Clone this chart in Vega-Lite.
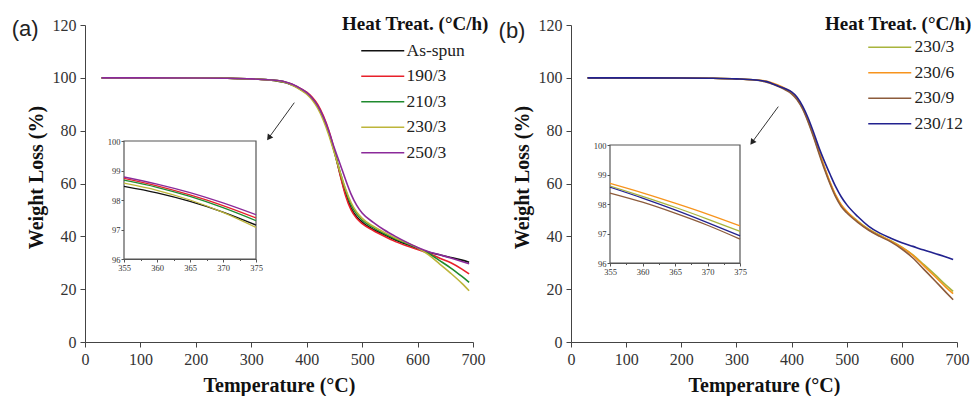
{
"$schema": "https://vega.github.io/schema/vega-lite/v6.json",
"background": "white",
"padding": {"left": 11, "top": 15, "right": 5, "bottom": 5},
"bounds": "flush",
"spacing": 98,
"config": {"view": {"stroke": null}, "font": "Liberation Serif"},
"resolve": {"scale": {"color": "independent"}},
"datasets": {
"a": [
{"s":"As-spun","T":30,"W":100},{"s":"As-spun","T":100,"W":100},{"s":"As-spun","T":200,"W":99.95},{"s":"As-spun","T":250,"W":99.85},{"s":"As-spun","T":300,"W":99.6},{"s":"As-spun","T":330,"W":99.25},{"s":"As-spun","T":355,"W":98.46},{"s":"As-spun","T":360,"W":98.24},{"s":"As-spun","T":365,"W":97.95},{"s":"As-spun","T":370,"W":97.59},{"s":"As-spun","T":375,"W":97.15},{"s":"As-spun","T":390,"W":95.45},{"s":"As-spun","T":400,"W":94.1},{"s":"As-spun","T":410,"W":92.1},{"s":"As-spun","T":420,"W":89.2},{"s":"As-spun","T":430,"W":84.9},{"s":"As-spun","T":440,"W":79.2},{"s":"As-spun","T":450,"W":72.0},{"s":"As-spun","T":460,"W":63.8},{"s":"As-spun","T":470,"W":56.2},{"s":"As-spun","T":480,"W":50.7},{"s":"As-spun","T":490,"W":47.4},{"s":"As-spun","T":500,"W":45.4},{"s":"As-spun","T":520,"W":42.6},{"s":"As-spun","T":540,"W":40.6},{"s":"As-spun","T":560,"W":38.6},{"s":"As-spun","T":580,"W":37.0},{"s":"As-spun","T":600,"W":35.4},{"s":"As-spun","T":620,"W":34.0},{"s":"As-spun","T":640,"W":33.0},{"s":"As-spun","T":660,"W":32.0},{"s":"As-spun","T":680,"W":31.0},{"s":"As-spun","T":693,"W":30.2},
{"s":"190/3","T":30,"W":100},{"s":"190/3","T":100,"W":100},{"s":"190/3","T":200,"W":99.95},{"s":"190/3","T":250,"W":99.85},{"s":"190/3","T":300,"W":99.6},{"s":"190/3","T":330,"W":99.25},{"s":"190/3","T":355,"W":98.73},{"s":"190/3","T":360,"W":98.48},{"s":"190/3","T":365,"W":98.17},{"s":"190/3","T":370,"W":97.81},{"s":"190/3","T":375,"W":97.39},{"s":"190/3","T":390,"W":95.8},{"s":"190/3","T":400,"W":94.55},{"s":"190/3","T":410,"W":92.6},{"s":"190/3","T":420,"W":89.8},{"s":"190/3","T":430,"W":85.6},{"s":"190/3","T":440,"W":80.0},{"s":"190/3","T":450,"W":72.5},{"s":"190/3","T":460,"W":63.5},{"s":"190/3","T":470,"W":55.5},{"s":"190/3","T":480,"W":50.0},{"s":"190/3","T":490,"W":46.8},{"s":"190/3","T":500,"W":44.8},{"s":"190/3","T":520,"W":42.2},{"s":"190/3","T":540,"W":40.0},{"s":"190/3","T":560,"W":38.0},{"s":"190/3","T":580,"W":36.4},{"s":"190/3","T":600,"W":35.0},{"s":"190/3","T":620,"W":33.6},{"s":"190/3","T":640,"W":31.7},{"s":"190/3","T":660,"W":30.0},{"s":"190/3","T":680,"W":27.6},{"s":"190/3","T":693,"W":25.8},
{"s":"210/3","T":30,"W":100},{"s":"210/3","T":100,"W":100},{"s":"210/3","T":200,"W":99.95},{"s":"210/3","T":250,"W":99.85},{"s":"210/3","T":300,"W":99.6},{"s":"210/3","T":330,"W":99.25},{"s":"210/3","T":355,"W":98.67},{"s":"210/3","T":360,"W":98.43},{"s":"210/3","T":365,"W":98.12},{"s":"210/3","T":370,"W":97.74},{"s":"210/3","T":375,"W":97.30},{"s":"210/3","T":390,"W":95.6},{"s":"210/3","T":400,"W":94.25},{"s":"210/3","T":410,"W":92.1},{"s":"210/3","T":420,"W":89.1},{"s":"210/3","T":430,"W":84.7},{"s":"210/3","T":440,"W":79.0},{"s":"210/3","T":450,"W":72.0},{"s":"210/3","T":460,"W":64.5},{"s":"210/3","T":470,"W":57.5},{"s":"210/3","T":480,"W":52.0},{"s":"210/3","T":490,"W":48.5},{"s":"210/3","T":500,"W":46.2},{"s":"210/3","T":520,"W":43.3},{"s":"210/3","T":540,"W":41.0},{"s":"210/3","T":560,"W":39.0},{"s":"210/3","T":580,"W":37.3},{"s":"210/3","T":600,"W":35.6},{"s":"210/3","T":620,"W":33.5},{"s":"210/3","T":640,"W":30.8},{"s":"210/3","T":660,"W":28.0},{"s":"210/3","T":680,"W":24.8},{"s":"210/3","T":693,"W":22.6},
{"s":"230/3","T":30,"W":100},{"s":"230/3","T":100,"W":100},{"s":"230/3","T":200,"W":99.95},{"s":"230/3","T":250,"W":99.85},{"s":"230/3","T":300,"W":99.6},{"s":"230/3","T":330,"W":99.25},{"s":"230/3","T":355,"W":98.57},{"s":"230/3","T":360,"W":98.33},{"s":"230/3","T":365,"W":98.00},{"s":"230/3","T":370,"W":97.58},{"s":"230/3","T":375,"W":97.07},{"s":"230/3","T":390,"W":95.3},{"s":"230/3","T":400,"W":93.85},{"s":"230/3","T":410,"W":91.6},{"s":"230/3","T":420,"W":88.4},{"s":"230/3","T":430,"W":84.0},{"s":"230/3","T":440,"W":78.3},{"s":"230/3","T":450,"W":71.5},{"s":"230/3","T":460,"W":64.5},{"s":"230/3","T":470,"W":58.0},{"s":"230/3","T":480,"W":52.8},{"s":"230/3","T":490,"W":49.2},{"s":"230/3","T":500,"W":46.8},{"s":"230/3","T":520,"W":43.8},{"s":"230/3","T":540,"W":41.5},{"s":"230/3","T":560,"W":39.4},{"s":"230/3","T":580,"W":37.6},{"s":"230/3","T":600,"W":35.7},{"s":"230/3","T":620,"W":33.0},{"s":"230/3","T":640,"W":29.5},{"s":"230/3","T":660,"W":26.0},{"s":"230/3","T":680,"W":22.2},{"s":"230/3","T":693,"W":19.4},
{"s":"250/3","T":30,"W":100},{"s":"250/3","T":100,"W":100},{"s":"250/3","T":200,"W":99.95},{"s":"250/3","T":250,"W":99.85},{"s":"250/3","T":300,"W":99.6},{"s":"250/3","T":330,"W":99.25},{"s":"250/3","T":355,"W":98.78},{"s":"250/3","T":360,"W":98.54},{"s":"250/3","T":365,"W":98.25},{"s":"250/3","T":370,"W":97.90},{"s":"250/3","T":375,"W":97.50},{"s":"250/3","T":390,"W":95.8},{"s":"250/3","T":400,"W":94.4},{"s":"250/3","T":410,"W":92.3},{"s":"250/3","T":420,"W":89.4},{"s":"250/3","T":430,"W":85.2},{"s":"250/3","T":440,"W":79.8},{"s":"250/3","T":450,"W":73.3},{"s":"250/3","T":460,"W":67.5},{"s":"250/3","T":470,"W":61.5},{"s":"250/3","T":480,"W":56.0},{"s":"250/3","T":490,"W":51.8},{"s":"250/3","T":500,"W":48.8},{"s":"250/3","T":520,"W":45.3},{"s":"250/3","T":540,"W":42.4},{"s":"250/3","T":560,"W":40.0},{"s":"250/3","T":580,"W":37.8},{"s":"250/3","T":600,"W":35.8},{"s":"250/3","T":620,"W":34.2},{"s":"250/3","T":640,"W":33.0},{"s":"250/3","T":660,"W":31.8},{"s":"250/3","T":680,"W":30.5},{"s":"250/3","T":693,"W":29.6}
],
"b": [
{"s":"230/3","T":30,"W":100},{"s":"230/3","T":100,"W":100},{"s":"230/3","T":200,"W":99.95},{"s":"230/3","T":250,"W":99.85},{"s":"230/3","T":300,"W":99.6},{"s":"230/3","T":330,"W":99.25},{"s":"230/3","T":355,"W":98.61},{"s":"230/3","T":360,"W":98.26},{"s":"230/3","T":365,"W":97.89},{"s":"230/3","T":370,"W":97.49},{"s":"230/3","T":375,"W":97.07},{"s":"230/3","T":390,"W":95.55},{"s":"230/3","T":400,"W":94.2},{"s":"230/3","T":410,"W":92.0},{"s":"230/3","T":420,"W":88.5},{"s":"230/3","T":430,"W":83.7},{"s":"230/3","T":440,"W":78.0},{"s":"230/3","T":450,"W":71.7},{"s":"230/3","T":460,"W":65.8},{"s":"230/3","T":470,"W":60.2},{"s":"230/3","T":480,"W":55.4},{"s":"230/3","T":490,"W":51.8},{"s":"230/3","T":500,"W":49.4},{"s":"230/3","T":520,"W":45.8},{"s":"230/3","T":540,"W":42.7},{"s":"230/3","T":560,"W":40.4},{"s":"230/3","T":580,"W":38.3},{"s":"230/3","T":600,"W":35.9},{"s":"230/3","T":620,"W":33.0},{"s":"230/3","T":640,"W":29.3},{"s":"230/3","T":660,"W":25.5},{"s":"230/3","T":680,"W":21.5},{"s":"230/3","T":693,"W":19.2},
{"s":"230/6","T":30,"W":100},{"s":"230/6","T":100,"W":100},{"s":"230/6","T":200,"W":99.95},{"s":"230/6","T":250,"W":99.85},{"s":"230/6","T":300,"W":99.6},{"s":"230/6","T":330,"W":99.25},{"s":"230/6","T":355,"W":98.70},{"s":"230/6","T":360,"W":98.38},{"s":"230/6","T":365,"W":98.03},{"s":"230/6","T":370,"W":97.66},{"s":"230/6","T":375,"W":97.26},{"s":"230/6","T":390,"W":95.8},{"s":"230/6","T":400,"W":94.5},{"s":"230/6","T":410,"W":92.3},{"s":"230/6","T":420,"W":88.8},{"s":"230/6","T":430,"W":84.0},{"s":"230/6","T":440,"W":78.3},{"s":"230/6","T":450,"W":72.0},{"s":"230/6","T":460,"W":66.0},{"s":"230/6","T":470,"W":60.4},{"s":"230/6","T":480,"W":55.6},{"s":"230/6","T":490,"W":52.0},{"s":"230/6","T":500,"W":49.5},{"s":"230/6","T":520,"W":45.6},{"s":"230/6","T":540,"W":42.5},{"s":"230/6","T":560,"W":40.2},{"s":"230/6","T":580,"W":38.2},{"s":"230/6","T":600,"W":35.8},{"s":"230/6","T":620,"W":32.8},{"s":"230/6","T":640,"W":28.8},{"s":"230/6","T":660,"W":24.8},{"s":"230/6","T":680,"W":20.7},{"s":"230/6","T":693,"W":18.3},
{"s":"230/9","T":30,"W":100},{"s":"230/9","T":100,"W":100},{"s":"230/9","T":200,"W":99.95},{"s":"230/9","T":250,"W":99.85},{"s":"230/9","T":300,"W":99.6},{"s":"230/9","T":330,"W":99.25},{"s":"230/9","T":355,"W":98.37},{"s":"230/9","T":360,"W":98.06},{"s":"230/9","T":365,"W":97.69},{"s":"230/9","T":370,"W":97.28},{"s":"230/9","T":375,"W":96.81},{"s":"230/9","T":390,"W":95.3},{"s":"230/9","T":400,"W":93.95},{"s":"230/9","T":410,"W":91.7},{"s":"230/9","T":420,"W":88.2},{"s":"230/9","T":430,"W":83.3},{"s":"230/9","T":440,"W":77.5},{"s":"230/9","T":450,"W":71.2},{"s":"230/9","T":460,"W":65.2},{"s":"230/9","T":470,"W":59.7},{"s":"230/9","T":480,"W":54.9},{"s":"230/9","T":490,"W":51.3},{"s":"230/9","T":500,"W":48.9},{"s":"230/9","T":520,"W":45.3},{"s":"230/9","T":540,"W":42.3},{"s":"230/9","T":560,"W":40.0},{"s":"230/9","T":580,"W":37.9},{"s":"230/9","T":600,"W":35.2},{"s":"230/9","T":620,"W":31.8},{"s":"230/9","T":640,"W":27.5},{"s":"230/9","T":660,"W":23.2},{"s":"230/9","T":680,"W":18.8},{"s":"230/9","T":693,"W":16.0},
{"s":"230/12","T":30,"W":100},{"s":"230/12","T":100,"W":100},{"s":"230/12","T":200,"W":99.95},{"s":"230/12","T":250,"W":99.85},{"s":"230/12","T":300,"W":99.6},{"s":"230/12","T":330,"W":99.25},{"s":"230/12","T":355,"W":98.57},{"s":"230/12","T":360,"W":98.20},{"s":"230/12","T":365,"W":97.80},{"s":"230/12","T":370,"W":97.37},{"s":"230/12","T":375,"W":96.92},{"s":"230/12","T":390,"W":95.75},{"s":"230/12","T":400,"W":94.65},{"s":"230/12","T":410,"W":92.65},{"s":"230/12","T":420,"W":89.3},{"s":"230/12","T":430,"W":84.8},{"s":"230/12","T":440,"W":79.3},{"s":"230/12","T":450,"W":73.4},{"s":"230/12","T":460,"W":68.2},{"s":"230/12","T":470,"W":63.4},{"s":"230/12","T":480,"W":58.8},{"s":"230/12","T":490,"W":55.0},{"s":"230/12","T":500,"W":52.0},{"s":"230/12","T":520,"W":47.5},{"s":"230/12","T":540,"W":43.8},{"s":"230/12","T":560,"W":41.2},{"s":"230/12","T":580,"W":39.3},{"s":"230/12","T":600,"W":37.6},{"s":"230/12","T":620,"W":36.2},{"s":"230/12","T":640,"W":34.8},{"s":"230/12","T":660,"W":33.5},{"s":"230/12","T":680,"W":32.2},{"s":"230/12","T":693,"W":31.2}
],
"arrowA": [{"x": 377.6, "y": 90.6, "x2": 331.6, "y2": 77.3}],
"arrowB": [{"x": 375.9, "y": 89.1, "x2": 328.4, "y2": 75.6}],
"labA": [{"x": -108, "y": 118.5, "t": "(a)"}],
"labB": [{"x": -107, "y": 117.7, "t": "(b)"}],
"box": [{"x": 355, "x2": 375, "y": 96, "y2": 100}]
},
"hconcat": [
{
"width": 388, "height": 317,
"resolve": {"scale": {"x": "independent", "y": "independent"}, "axis": {"x": "independent", "y": "independent"}},
"layer": [
{"layer": [
{"data": {"name": "a"}, "mark": {"type": "line", "strokeWidth": 1.6, "interpolate": "monotone"},
 "encoding": {
  "x": {"field": "T", "type": "quantitative", "title": "Temperature (°C)", "scale": {"domain": [0, 700], "nice": false},
   "axis": {"values": [0,50,100,150,200,250,300,350,400,450,500,550,600,650,700], "labelExpr": "datum.value % 100 == 0 ? datum.label : ''", "tickSize": {"condition": {"test": "datum.value % 100 == 0", "value": 5}, "value": 3}, "labelFontSize": 16, "labelFont": "Liberation Serif", "labelColor": "#333", "labelPadding": 4, "titleFont": "Liberation Serif", "titleFontSize": 20, "titleFontWeight": "bold", "titleColor": "#111", "titlePadding": 8, "domainColor": "#444", "tickColor": "#444", "grid": false, "labelFlush": false, "labelOverlap": false, "labelBound": false}},
  "y": {"field": "W", "type": "quantitative", "title": "Weight Loss (%)", "scale": {"domain": [0, 120], "nice": false},
   "axis": {"values": [0,10,20,30,40,50,60,70,80,90,100,110,120], "labelExpr": "datum.value % 20 == 0 ? datum.label : ''", "tickSize": {"condition": {"test": "datum.value % 20 == 0", "value": 5}, "value": 3}, "labelFontSize": 16, "labelFont": "Liberation Serif", "labelColor": "#333", "labelPadding": 4, "titleFont": "Liberation Serif", "titleFontSize": 20, "titleFontWeight": "bold", "titleColor": "#111", "titlePadding": 6, "titleY": 152, "domainColor": "#444", "tickColor": "#444", "grid": false, "labelFlush": false, "labelOverlap": false, "labelBound": false}},
  "color": {"field": "s", "type": "nominal", "sort": null,
   "scale": {"domain": ["As-spun","190/3","210/3","230/3","250/3"], "range": ["#111111","#e8202a","#1f8a2e","#bdb53a","#8b2a9a"]},
   "legend": {"title": "Heat Treat. (°C/h)", "orient": "none", "legendX": 257, "legendY": -10, "direction": "vertical", "titleFont": "Liberation Serif", "titleFontSize": 19, "titleFontWeight": "bold", "titleColor": "#111", "titlePadding": 8, "labelFont": "Liberation Serif", "labelFontSize": 17.5, "labelColor": "#222", "symbolType": "M-5,0H5", "symbolSize": 74, "symbolStrokeWidth": 1.6, "symbolOffset": 32, "labelOffset": 15, "rowPadding": 6.5, "padding": 0}}
 }},
{"data": {"name": "arrowA"}, "mark": {"type": "rule", "color": "#333", "strokeWidth": 1},
 "encoding": {"x": {"field": "x", "type": "quantitative", "title": "Temperature (°C)"}, "y": {"field": "y", "type": "quantitative", "title": "Weight Loss (%)"}, "x2": {"field": "x2"}, "y2": {"field": "y2"}}},
{"data": {"name": "arrowA"}, "mark": {"type": "point", "shape": "triangle-up", "filled": true, "color": "#222", "opacity": 1, "size": 45, "angle": 216},
 "encoding": {"x": {"field": "x2", "type": "quantitative", "title": "Temperature (°C)"}, "y": {"field": "y2", "type": "quantitative", "title": "Weight Loss (%)"}}},
{"data": {"name": "labA"}, "mark": {"type": "text", "font": "Liberation Sans", "fontSize": 22, "color": "#222", "align": "center", "baseline": "middle"},
 "encoding": {"x": {"field": "x", "type": "quantitative", "title": "Temperature (°C)"}, "y": {"field": "y", "type": "quantitative", "title": "Weight Loss (%)"}, "text": {"field": "t"}}}
]},
{"layer": [
{"data": {"name": "box"}, "mark": {"type": "rect", "fill": "white", "stroke": "#555", "strokeWidth": 1.2},
 "encoding": {
  "x": {"field": "x", "type": "quantitative", "title": null, "scale": {"domain": [355, 375], "range": [39, 171], "nice": false, "zero": false},
   "axis": {"orient": "bottom", "offset": -83, "values": [355,357.5,360,362.5,365,367.5,370,372.5,375], "labelExpr": "datum.value % 5 == 0 ? format(datum.value, 'd') : ''", "tickSize": {"condition": {"test": "datum.value % 5 == 0", "value": 3}, "value": 1.5}, "labelFontSize": 8.5, "labelFont": "Liberation Serif", "labelColor": "#333", "labelPadding": 1, "domainColor": "#555", "tickColor": "#555", "grid": false, "labelFlush": false, "labelOverlap": false, "labelBound": false}},
  "x2": {"field": "x2"},
  "y": {"field": "y", "type": "quantitative", "title": null, "scale": {"domain": [96, 100], "range": [234, 116], "nice": false, "zero": false},
   "axis": {"orient": "left", "offset": -39, "values": [96,96.5,97,97.5,98,98.5,99,99.5,100], "labelExpr": "datum.value % 1 == 0 ? format(datum.value, 'd') : ''", "tickSize": {"condition": {"test": "datum.value % 1 == 0", "value": 3}, "value": 1.5}, "labelFontSize": 8.5, "labelFont": "Liberation Serif", "labelColor": "#333", "labelPadding": 1, "domainColor": "#555", "tickColor": "#555", "grid": false, "labelFlush": false, "labelOverlap": false, "labelBound": false}},
  "y2": {"field": "y2"}
 }},
{"data": {"name": "a"}, "transform": [{"filter": "datum.T >= 355 && datum.T <= 375"}], "mark": {"type": "line", "strokeWidth": 1.3, "interpolate": "monotone"},
 "encoding": {"x": {"field": "T", "type": "quantitative", "title": null}, "y": {"field": "W", "type": "quantitative", "title": null}, "color": {"field": "s", "type": "nominal", "sort": null, "legend": null}}}
]}
]
},
{
"width": 386, "height": 317,
"resolve": {"scale": {"x": "independent", "y": "independent"}, "axis": {"x": "independent", "y": "independent"}},
"layer": [
{"layer": [
{"data": {"name": "b"}, "mark": {"type": "line", "strokeWidth": 1.6, "interpolate": "monotone"},
 "encoding": {
  "x": {"field": "T", "type": "quantitative", "title": "Temperature (°C)", "scale": {"domain": [0, 700], "nice": false},
   "axis": {"values": [0,50,100,150,200,250,300,350,400,450,500,550,600,650,700], "labelExpr": "datum.value % 100 == 0 ? datum.label : ''", "tickSize": {"condition": {"test": "datum.value % 100 == 0", "value": 5}, "value": 3}, "labelFontSize": 16, "labelFont": "Liberation Serif", "labelColor": "#333", "labelPadding": 4, "titleFont": "Liberation Serif", "titleFontSize": 20, "titleFontWeight": "bold", "titleColor": "#111", "titlePadding": 8, "domainColor": "#444", "tickColor": "#444", "grid": false, "labelFlush": false, "labelOverlap": false, "labelBound": false}},
  "y": {"field": "W", "type": "quantitative", "title": "Weight Loss (%)", "scale": {"domain": [0, 120], "nice": false},
   "axis": {"values": [0,10,20,30,40,50,60,70,80,90,100,110,120], "labelExpr": "datum.value % 20 == 0 ? datum.label : ''", "tickSize": {"condition": {"test": "datum.value % 20 == 0", "value": 5}, "value": 3}, "labelFontSize": 16, "labelFont": "Liberation Serif", "labelColor": "#333", "labelPadding": 4, "titleFont": "Liberation Serif", "titleFontSize": 20, "titleFontWeight": "bold", "titleColor": "#111", "titlePadding": 6, "titleY": 152, "domainColor": "#444", "tickColor": "#444", "grid": false, "labelFlush": false, "labelOverlap": false, "labelBound": false}},
  "color": {"field": "s", "type": "nominal", "sort": null,
   "scale": {"domain": ["230/3","230/6","230/9","230/12"], "range": ["#a8b43c","#f7941d","#8c5b3b","#22228f"]},
   "legend": {"title": "Heat Treat. (°C/h)", "orient": "none", "legendX": 254, "legendY": -10, "direction": "vertical", "titleFont": "Liberation Serif", "titleFontSize": 19, "titleFontWeight": "bold", "titleColor": "#111", "titlePadding": 4.5, "labelFont": "Liberation Serif", "labelFontSize": 17.5, "labelColor": "#222", "symbolType": "M-5,0H5", "symbolSize": 74, "symbolStrokeWidth": 1.6, "symbolOffset": 56, "labelOffset": 16, "rowPadding": 6.5, "padding": 0}}
 }},
{"data": {"name": "arrowB"}, "mark": {"type": "rule", "color": "#333", "strokeWidth": 1},
 "encoding": {"x": {"field": "x", "type": "quantitative", "title": "Temperature (°C)"}, "y": {"field": "y", "type": "quantitative", "title": "Weight Loss (%)"}, "x2": {"field": "x2"}, "y2": {"field": "y2"}}},
{"data": {"name": "arrowB"}, "mark": {"type": "point", "shape": "triangle-up", "filled": true, "color": "#222", "opacity": 1, "size": 45, "angle": 216},
 "encoding": {"x": {"field": "x2", "type": "quantitative", "title": "Temperature (°C)"}, "y": {"field": "y2", "type": "quantitative", "title": "Weight Loss (%)"}}},
{"data": {"name": "labB"}, "mark": {"type": "text", "font": "Liberation Sans", "fontSize": 22, "color": "#222", "align": "center", "baseline": "middle"},
 "encoding": {"x": {"field": "x", "type": "quantitative", "title": "Temperature (°C)"}, "y": {"field": "y", "type": "quantitative", "title": "Weight Loss (%)"}, "text": {"field": "t"}}}
]},
{"layer": [
{"data": {"name": "box"}, "mark": {"type": "rect", "fill": "white", "stroke": "#555", "strokeWidth": 1.2},
 "encoding": {
  "x": {"field": "x", "type": "quantitative", "title": null, "scale": {"domain": [355, 375], "range": [39, 169], "nice": false, "zero": false},
   "axis": {"orient": "bottom", "offset": -79, "values": [355,357.5,360,362.5,365,367.5,370,372.5,375], "labelExpr": "datum.value % 5 == 0 ? format(datum.value, 'd') : ''", "tickSize": {"condition": {"test": "datum.value % 5 == 0", "value": 3}, "value": 1.5}, "labelFontSize": 8.5, "labelFont": "Liberation Serif", "labelColor": "#333", "labelPadding": 1, "domainColor": "#555", "tickColor": "#555", "grid": false, "labelFlush": false, "labelOverlap": false, "labelBound": false}},
  "x2": {"field": "x2"},
  "y": {"field": "y", "type": "quantitative", "title": null, "scale": {"domain": [96, 100], "range": [238, 120], "nice": false, "zero": false},
   "axis": {"orient": "left", "offset": -39, "values": [96,96.5,97,97.5,98,98.5,99,99.5,100], "labelExpr": "datum.value % 1 == 0 ? format(datum.value, 'd') : ''", "tickSize": {"condition": {"test": "datum.value % 1 == 0", "value": 3}, "value": 1.5}, "labelFontSize": 8.5, "labelFont": "Liberation Serif", "labelColor": "#333", "labelPadding": 1, "domainColor": "#555", "tickColor": "#555", "grid": false, "labelFlush": false, "labelOverlap": false, "labelBound": false}},
  "y2": {"field": "y2"}
 }},
{"data": {"name": "b"}, "transform": [{"filter": "datum.T >= 355 && datum.T <= 375"}], "mark": {"type": "line", "strokeWidth": 1.3, "interpolate": "monotone"},
 "encoding": {"x": {"field": "T", "type": "quantitative", "title": null}, "y": {"field": "W", "type": "quantitative", "title": null}, "color": {"field": "s", "type": "nominal", "sort": null, "legend": null}}}
]}
]
}
]
}
